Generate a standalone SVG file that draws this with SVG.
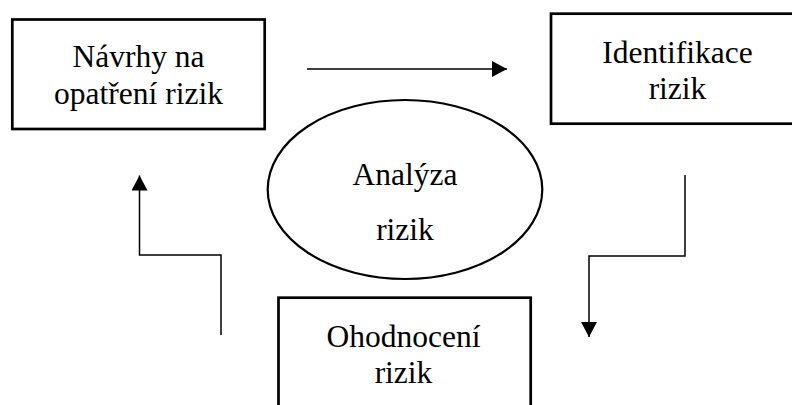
<svg xmlns="http://www.w3.org/2000/svg" width="792" height="405" viewBox="0 0 792 405">
  <style>
    .box { fill: #ffffff; stroke: #000000; stroke-width: 2.7; }
    .ell { fill: #ffffff; stroke: #000000; stroke-width: 2.2; }
    .lbl { font-family: 'Liberation Serif', Tinos, 'Times New Roman', Times, 'DejaVu Serif', serif; font-size: 31.5px; fill: #000000; text-anchor: middle; }
    .conn { fill: none; stroke: #000000; stroke-width: 1.5; }
  </style>
  <defs>
    <marker id="arrow" markerUnits="userSpaceOnUse" markerWidth="16" markerHeight="16" refX="15" refY="8" orient="auto">
      <path d="M0,0 L15,8 L0,16 Z" fill="#000000"/>
    </marker>
  </defs>
  <rect width="792" height="405" fill="#ffffff"/>

  <g id="connectors">
    <path class="conn" d="M307,69 H507" marker-end="url(#arrow)"/>
    <path class="conn" d="M685,175 V256 H589 V337" marker-end="url(#arrow)"/>
    <path class="conn" d="M221,335 V255 H139.5 V175.5" marker-end="url(#arrow)"/>
  </g>

  <g id="node-navrhy">
    <rect class="box" x="12.3" y="19.5" width="252.4" height="109.5"/>
    <text class="lbl" x="138.5" y="67" font-family="Liberation Serif, serif">Návrhy na</text>
    <text class="lbl" x="138.5" y="104" font-family="Liberation Serif, serif">opatření rizik</text>
  </g>

  <g id="node-identifikace">
    <rect class="box" x="551" y="13.7" width="260" height="110"/>
    <text class="lbl" x="677.5" y="63.3">Identifikace</text>
    <text class="lbl" x="677.5" y="98.5">rizik</text>
  </g>

  <g id="node-analyza">
    <ellipse class="ell" cx="405" cy="189.5" rx="137.3" ry="89.5"/>
    <text class="lbl" x="405" y="185">Analýza</text>
    <text class="lbl" x="405" y="240">rizik</text>
  </g>

  <g id="node-ohodnoceni">
    <rect class="box" x="278.5" y="297.7" width="252.2" height="130"/>
    <text class="lbl" x="403.5" y="346.7">Ohodnocení</text>
    <text class="lbl" x="403.5" y="382.5">rizik</text>
  </g>
</svg>
